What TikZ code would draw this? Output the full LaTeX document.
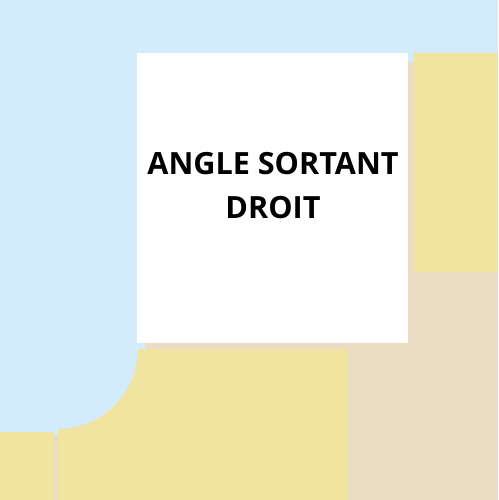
\documentclass[tikz,border=0pt]{standalone}
\usepackage{fontspec}
\setmainfont{Open Sans}
\definecolor{ciel}{HTML}{D2EBFD}
\definecolor{sable}{HTML}{F1E4A0}
\definecolor{beige}{HTML}{EADDC4}
\begin{document}
\begin{tikzpicture}[x=1pt,y=-1pt]
    \fill[ciel] (0,0) rectangle (498,500);

    \fill[beige] (408,62) rectangle (416,275);
    \fill[sable] (414,53) rectangle (498,275);
    \fill[beige] (348,272) rectangle (498,500);

    \fill[beige] (145,343) rectangle (348,350);
    \fill[beige] (54,435) rectangle (58,500);
    \fill[sable] (0,432) rectangle (54,500);
    \fill[sable] (348,500) -- (58,500) -- (58,429)
        arc[start angle=90, end angle=0, radius=80] -- (348,349) -- cycle;

    \fill[white] (137,53) rectangle (408,343);
    \node[font=\bfseries\fontsize{30.6}{44}\selectfont, align=center] (titre) at (273,186) {ANGLE SORTANT\\DROIT};
\end{tikzpicture}
\end{document}
